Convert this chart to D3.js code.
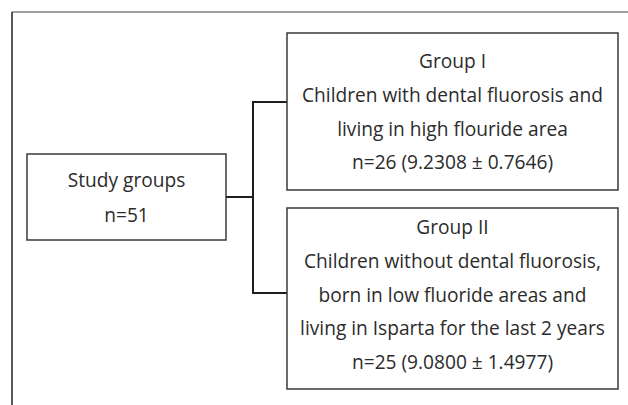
<!DOCTYPE html>
<html>
<head>
<meta charset="utf-8">
<script src="https://cdn.jsdelivr.net/npm/d3@7"></script>
<style>
  body { margin: 0; background: #fff; }
  text { font-family: "Open Sans", "Noto Sans", sans-serif; fill: #2b2b2b; }
</style>
</head>
<body>
<div id="chart"></div>
<script>
// study data
const rootLines = ["Study groups", "n=51"];
const groupTitles = ["Group I", "Group II"];
const groupDescriptions = [
  ["Children with dental fluorosis and", "living in high flouride area"],
  ["Children without dental fluorosis,", "born in low fluoride areas and", "living in Isparta for the last 2 years"]
];
const groupN = [26, 25];
const groupMean = [9.2308, 9.0800];
const groupSD = [0.7646, 1.4977];

let width = 628, height = 405;
let fontSize = 17, lineH = 33.8;

let svg = d3.select("#chart").append("svg")
  .attr("width", width)
  .attr("height", height);

// outer frame (only top and left edges are visible)
svg.append("line")
  .attr("x1", 12).attr("y1", 12).attr("x2", width).attr("y2", 12)
  .attr("stroke", "#808080").attr("stroke-width", 1.5);
svg.append("line")
  .attr("x1", 12).attr("y1", 12).attr("x2", 12).attr("y2", height)
  .attr("stroke", "#222").attr("stroke-width", 1.5);

// build the group label lines
let groups = groupTitles.map((t, i) => ({
  lines: [t].concat(groupDescriptions[i],
    [`n=${groupN[i]} (${groupMean[i].toFixed(4)} ± ${groupSD[i].toFixed(4)})`])
}));

// layout
let root = { x: 27, y: 154, w: 199, h: 86, lines: rootLines, first: 187 };
let gx = 287, gw = 331;
groups[0].x = gx; groups[0].y = 33; groups[0].w = gw; groups[0].h = 157; groups[0].first = 68; groups[0].link = 102;
groups[1].x = gx; groups[1].y = 208; groups[1].w = gw; groups[1].h = 181; groups[1].first = 234; groups[1].link = 293;

let branchX = 253;
let rootLinkY = root.y + root.h / 2;

// connectors
let link = svg.append("g")
  .attr("fill", "none")
  .attr("stroke", "#1e1e1e")
  .attr("stroke-width", 2);

link.append("line")
  .attr("x1", root.x + root.w).attr("y1", rootLinkY)
  .attr("x2", branchX).attr("y2", rootLinkY);

link.append("line")
  .attr("x1", branchX).attr("y1", d3.min(groups, d => d.link))
  .attr("x2", branchX).attr("y2", d3.max(groups, d => d.link))
  .attr("stroke-linecap", "square");

link.selectAll(".branch")
  .data(groups)
  .enter()
  .append("line")
  .attr("class", "branch")
  .attr("x1", branchX).attr("y1", d => d.link)
  .attr("x2", d => d.x).attr("y2", d => d.link);

// boxes
let boxes = svg.selectAll(".box")
  .data([root].concat(groups))
  .enter()
  .append("g")
  .attr("class", "box");

boxes.append("rect")
  .attr("x", d => d.x)
  .attr("y", d => d.y)
  .attr("width", d => d.w)
  .attr("height", d => d.h)
  .attr("fill", "#fff")
  .attr("stroke", "#3a3a3a")
  .attr("stroke-width", 1.5);

boxes.each(function (d) {
  d3.select(this).selectAll("text")
    .data(d.lines)
    .enter()
    .append("text")
    .attr("x", d.x + d.w / 2)
    .attr("y", (t, i) => d.first + i * (d === root ? 35 : lineH))
    .attr("text-anchor", "middle")
    .style("font-size", fontSize + "px")
    .text(t => t);
});

// fit the type so the widest Group I line spans about 301px like the original
let probe = svg.selectAll("text").filter(t => t === groupDescriptions[0][0]).node();
let fit = fontSize * 301 / probe.getComputedTextLength();
svg.selectAll("text").style("font-size", fit + "px");
</script>
</body>
</html>
